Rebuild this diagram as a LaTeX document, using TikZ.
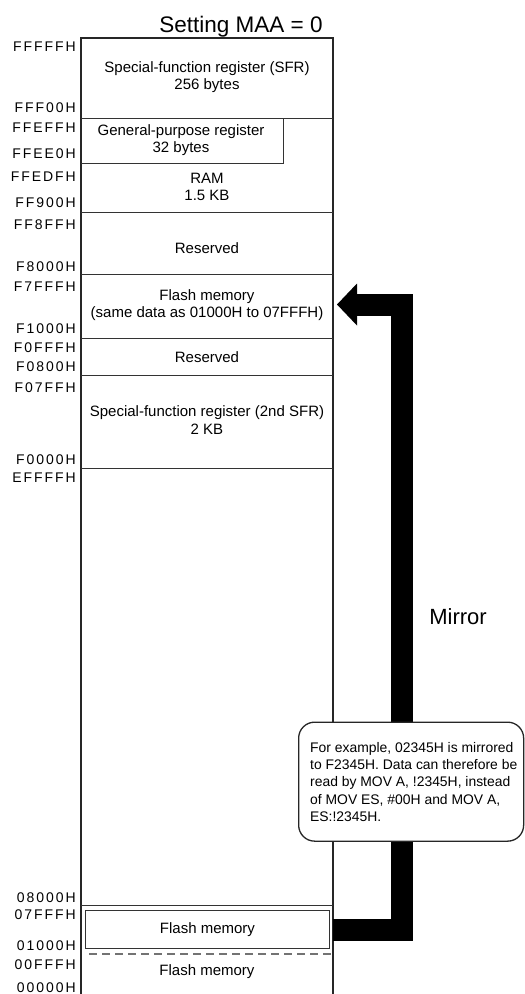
\documentclass[tikz,border=0pt]{standalone}
\usepackage{fontspec}
\setmainfont{Liberation Sans}
\newfontfamily\addrfont[LetterSpace=14]{Liberation Sans}
\begin{document}
\begin{tikzpicture}[x=1pt,y=-1pt,
  addr/.style={font=\addrfont\fontsize{14}{16}\selectfont, anchor=east, inner sep=0pt},
  boxtxt/.style={font=\fontsize{15}{17.5}\selectfont, align=center, inner sep=0pt},
  side/.style={line width=1.3pt, draw=black!85},
  memline/.style={line width=1pt, draw=black!80},
  dashline/.style={line width=1.2pt, draw=black!55, dash pattern=on 8pt off 5pt},
  mirrorbar/.style={line width=22pt, line cap=butt, line join=miter, draw=black},
  note/.style={draw=black!85, line width=1.3pt, fill=white, rounded corners=16pt, inner sep=0pt},
  notetxt/.style={font=\fontsize{13.9}{17.3}\selectfont, align=left, inner sep=0pt, anchor=north west},
  titletxt/.style={font=\fontsize{22.5}{26}\selectfont, anchor=base, inner sep=0pt}
]
\useasboundingbox (0,0) rectangle (525,994);

% title
\node[titletxt] (title) at (241,32) {Setting MAA = 0};

% main outline
\coordinate (edge) at (333,38);
\draw[side] (81,994) -- (81,38) -- (edge) -- (333,994);
\foreach \yy in {118,212,274,338,375,468,905}
  \draw[memline] (81,\yy) -- (333,\yy);
\draw[memline] (283,118) -- (283,163) -- (81,163);
\draw[dashline] (89,954) -- (333,954);

% region texts
\node[boxtxt] (sfr) at (207,77) {Special-function register (SFR)\\256 bytes};
\node[boxtxt] (gpr) at (181,140) {General-purpose register\\32 bytes};
\node[boxtxt] (ram) at (207,187) {RAM\\1.5 KB};
\node[boxtxt] (res1) at (207,248) {Reserved};
\node[boxtxt] (flashhigh) at (207,305) {Flash memory\\(same data as 01000H to 07FFFH)};
\node[boxtxt] (res2) at (207,357) {Reserved};
\node[boxtxt] (sfr2) at (207,420) {Special-function register (2nd SFR)\\2 KB};
\node[memline, draw, minimum width=244pt, minimum height=38pt, anchor=north west, font=\fontsize{15}{17.5}\selectfont, inner sep=0pt] (flashlow) at (85,910) {Flash memory};
\node[boxtxt] (flash0) at (207,972) {Flash memory};

% address labels
\foreach \yy/\tt in {47/FFFFFH,108/FFF00H,128/FFEFFH,154/FFEE0H,177/FFEDFH,203/FF900H,
  225/FF8FFH,267/F8000H,287/F7FFFH,329/F1000H,348/F0FFFH,367/F0800H,388/F07FFH,
  460/F0000H,478/EFFFFH,898/08000H,915/07FFFH,946/01000H,965/00FFFH,988/00000H}
  \node[addr] (lbl\tt) at (76,\yy) {\tt};

% mirror arrow
\coordinate (arrowend) at (357,304.5);
\coordinate (mirrortip) at (337,304.5);
\draw[mirrorbar] (flashlow.east -| edge) -- ++(69,0) |- (arrowend);
\fill ([yshift=21pt]arrowend) -- (mirrortip) -- ([yshift=-21pt]arrowend) -- cycle;

\node[font=\fontsize{22}{26}\selectfont, anchor=base, inner sep=0pt] (mirror) at (458,624) {Mirror};

% note
\node[note, minimum width=225pt, minimum height=119pt, anchor=north west] (notebox) at (298,721.5) {};
\node[notetxt] (notetext) at (310,742) {For example, 02345H is mirrored\\to F2345H. Data can therefore be\\read by MOV A, !2345H, instead\\of MOV ES, \#00H and MOV A,\\ES:!2345H.};
\end{tikzpicture}
\end{document}
